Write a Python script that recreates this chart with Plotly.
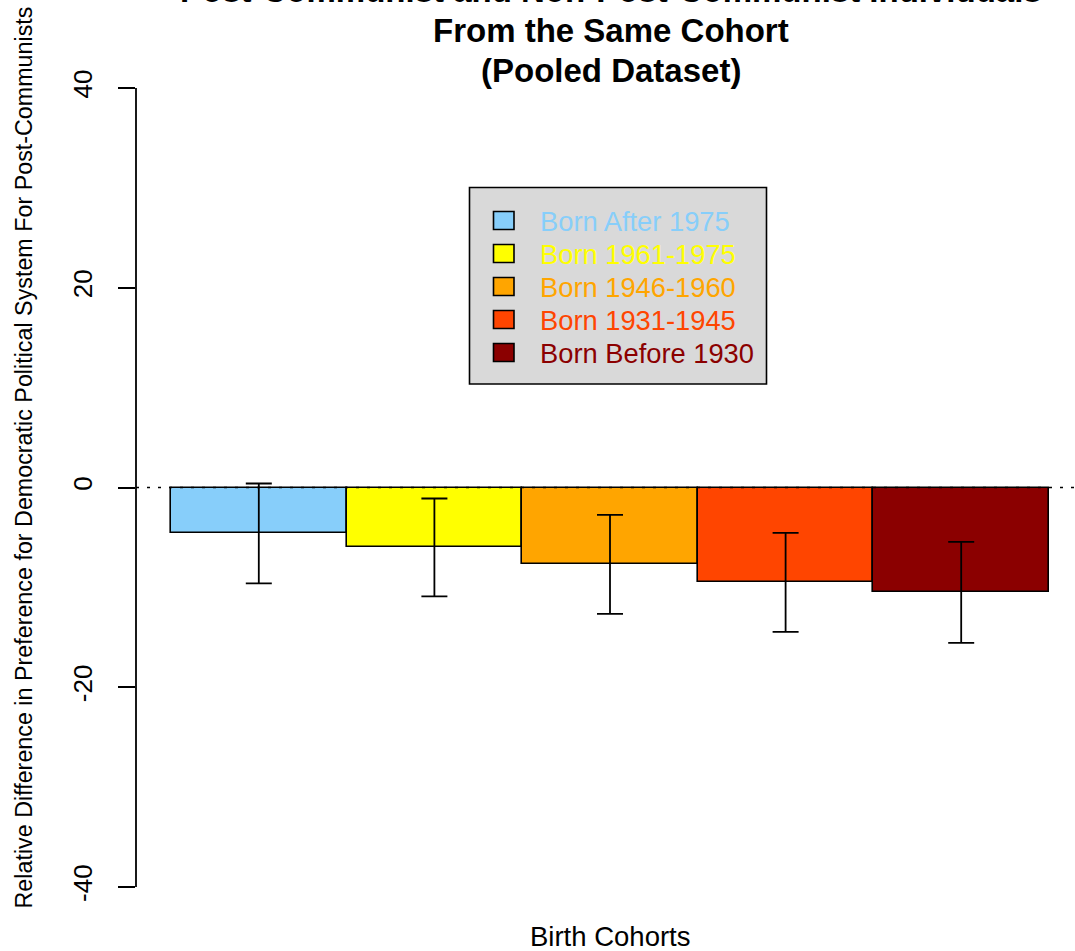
import plotly.graph_objects as go

# Cohort estimates: mean relative difference and half-width of the interval
cohorts = ["Born After 1975", "Born 1961-1975", "Born 1946-1960",
           "Born 1931-1945", "Born Before 1930"]
mean_diff = [-4.6, -6.0, -7.7, -9.5, -10.5]
half_ci = [5.0, 4.9, 4.95, 4.95, 5.05]
bar_colors = ["#87CEFA", "#FFFF00", "#FFA500", "#FF4500", "#8B0000"]
y_ticks = [-40, -20, 0, 20, 40]

title_lines = ["Post-Communist and Non-Post-Communist Individuals",
               "From the Same Cohort",
               "(Pooled Dataset)"]
x_title = "Birth Cohorts"
y_title = ("Relative Difference in Preference for Democratic "
           "Political System For Post-Communists")

W, H = 1075, 951
M_L, M_R, M_T, M_B = 136, 0, 56, 32
PLOT_W = W - M_L - M_R
PLOT_H = H - M_T - M_B
FONT = "Liberation Sans, Arial, Helvetica, sans-serif"


def px_to_paper_x(px):
    return (px - M_L) / PLOT_W


def px_to_paper_y(py):
    return (H - M_B - py) / PLOT_H


fig = go.Figure()
fig.add_trace(go.Bar(
    x=cohorts,
    y=mean_diff,
    width=1.0,
    marker=dict(color=bar_colors, line=dict(color="black", width=1.6)),
    error_y=dict(type="data", array=half_ci, visible=True,
                 color="black", thickness=1.8, width=13),
    showlegend=False,
))

# bar width in px drives the horizontal range: small gap before the first bar
bar_px = 175.6
x_left = -0.5 - 35 / bar_px
x_right = x_left + PLOT_W / bar_px

shapes = [
    # y axis line spans only the labelled ticks
    dict(type="line", xref="paper", yref="y", x0=0, x1=0,
         y0=min(y_ticks), y1=max(y_ticks),
         line=dict(color="black", width=1.8)),
    # dotted reference at zero
    dict(type="line", xref="paper", yref="y", x0=0, x1=1, y0=0, y1=0,
         line=dict(color="black", width=1.6, dash="3px,8px"), layer="above"),
]

annotations = []

# title, one annotation per line
for i, line in enumerate(title_lines):
    annotations.append(dict(
        text="<b>%s</b>" % line, xref="paper", yref="paper",
        x=px_to_paper_x(611), y=px_to_paper_y(-9.5 + 40 * i),
        xanchor="center", yanchor="middle", showarrow=False,
        font=dict(family=FONT, size=33, color="black")))

annotations.append(dict(
    text=x_title, xref="paper", yref="paper",
    x=px_to_paper_x(610), y=px_to_paper_y(936),
    xanchor="center", yanchor="middle", showarrow=False,
    font=dict(family=FONT, size=27.5, color="black")))

annotations.append(dict(
    text=y_title, xref="paper", yref="paper", textangle=-90,
    x=px_to_paper_x(23), y=px_to_paper_y(457.5),
    xanchor="center", yanchor="middle", showarrow=False,
    font=dict(family=FONT, size=23.3, color="black")))

# legend panel
box_l, box_r, box_t, box_b = 469.5, 766.5, 187.5, 384
shapes.append(dict(type="rect", xref="paper", yref="paper",
                   x0=px_to_paper_x(box_l), x1=px_to_paper_x(box_r),
                   y0=px_to_paper_y(box_b), y1=px_to_paper_y(box_t),
                   fillcolor="#D9D9D9", line=dict(color="black", width=1.6),
                   layer="above"))
for i, (name, col) in enumerate(zip(cohorts, bar_colors)):
    cy = 220.5 + 33 * i
    shapes.append(dict(type="rect", xref="paper", yref="paper",
                       x0=px_to_paper_x(493.5), x1=px_to_paper_x(514),
                       y0=px_to_paper_y(cy + 9), y1=px_to_paper_y(cy - 9),
                       fillcolor=col, line=dict(color="black", width=1.6),
                       layer="above"))
    annotations.append(dict(
        text=name, xref="paper", yref="paper",
        x=px_to_paper_x(538), y=px_to_paper_y(cy + 1),
        xanchor="left", yanchor="middle", showarrow=False,
        font=dict(family=FONT, size=27.3, color=col)))

fig.update_layout(
    width=W, height=H,
    margin=dict(l=M_L, r=M_R, t=M_T, b=M_B, autoexpand=False),
    paper_bgcolor="white", plot_bgcolor="white",
    bargap=0,
    xaxis=dict(range=[x_left, x_right], visible=False, showgrid=False,
               zeroline=False),
    yaxis=dict(range=[-43.2, 43.2], tickvals=y_ticks,
               ticktext=[str(v) for v in y_ticks],
               ticks="outside", ticklen=17, tickwidth=1.8, tickcolor="black",
               tickangle=-90, ticklabelstandoff=16,
               tickfont=dict(family=FONT, size=26, color="black"),
               showgrid=False, zeroline=False, showline=False),
    shapes=shapes,
    annotations=annotations,
    showlegend=False,
)

fig.write_html("out.html")
